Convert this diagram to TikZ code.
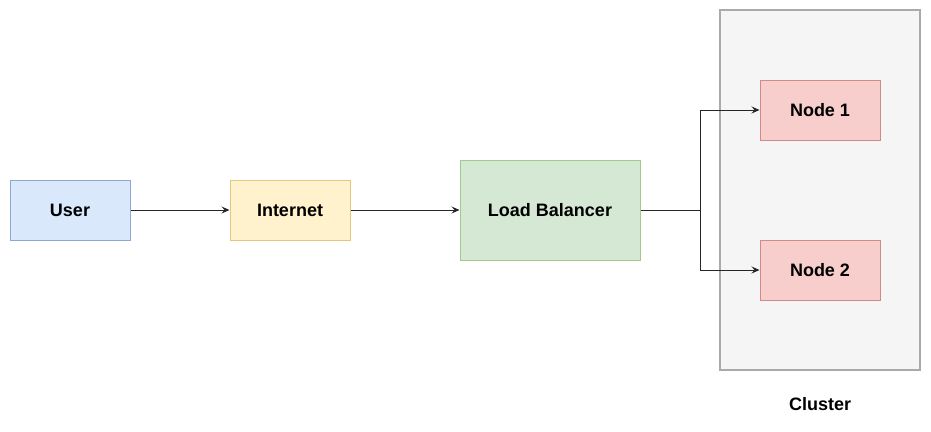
\documentclass[tikz,border=0pt]{standalone}
\usepackage{fontspec}
\setmainfont{Liberation Sans}
\usetikzlibrary{arrows.meta}
\definecolor{userfill}{HTML}{DAE8FC}
\definecolor{userline}{HTML}{8DA9D3}
\definecolor{netfill}{HTML}{FFF2CC}
\definecolor{netline}{HTML}{E0C97E}
\definecolor{lbfill}{HTML}{D5E8D4}
\definecolor{lbline}{HTML}{A3C98E}
\definecolor{clfill}{HTML}{F5F5F5}
\definecolor{clline}{HTML}{AAAAAA}
\definecolor{ndfill}{HTML}{F8CECC}
\definecolor{ndline}{HTML}{D08A87}
\tikzset{
    box/.style={draw, line width=1pt, minimum width=120pt, minimum height=60pt, inner sep=0pt,
        font=\fontsize{18}{21}\selectfont\bfseries},
    link/.style={-{Stealth[length=8pt,width=7pt,inset=3pt]}, line width=1pt, draw=black!85}
}
\begin{document}
\begin{tikzpicture}[x=1pt, y=-1pt]
        \useasboundingbox (0, 0) rectangle (931, 431);
        \draw[fill=clfill, draw=clline, line width=1.2pt] (720, 10) rectangle (920, 370);
        \node[font=\fontsize{18}{21}\selectfont\bfseries] (cluster) at (820, 404) {Cluster};
        \node[box, fill=userfill, draw=userline] (user) at (70, 210) {User};
        \node[box, fill=netfill, draw=netline] (internet) at (290, 210) {Internet};
        \node[box, fill=lbfill, draw=lbline, minimum width=180pt, minimum height=100pt] (lb) at (550, 210) {Load Balancer};
        \node[box, fill=ndfill, draw=ndline] (node1) at (820, 110) {Node 1};
        \node[box, fill=ndfill, draw=ndline] (node2) at (820, 270) {Node 2};
        \coordinate (split) at (700, 210);
        \draw[link] (user) -- (internet);
        \draw[link] (internet) -- (lb);
        \draw[line width=1pt, draw=black!85] (lb) -- (split);
        \draw[link] (split) |- (node1);
        \draw[link] (split) |- (node2);
    \end{tikzpicture}
\end{document}
